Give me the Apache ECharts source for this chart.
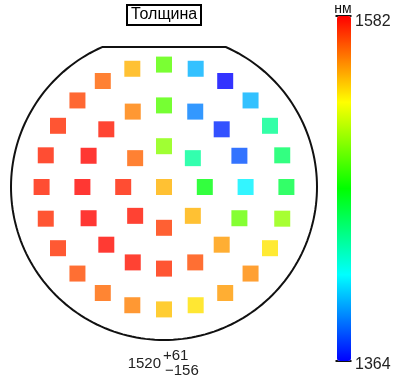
<!DOCTYPE html>
<html>
<head>
<meta charset="utf-8">
<script src="https://cdn.jsdelivr.net/npm/echarts@6/dist/echarts.min.js"></script>
<style>html,body{margin:0;padding:0;background:#fff}#c{width:398px;height:379px}</style>
</head>
<body>
<div id="c"></div>
<script>
// Measurement site positions on the wafer (mm) and thickness (nm)
const ptX = [0,
  20, 14.14, 0, -14.14, -20, -14.14, 0, 14.14,
  40, 36.96, 28.28, 15.31, 0, -15.31, -28.28, -36.96, -40, -36.96, -28.28, -15.31, 0, 15.31, 28.28, 36.96,
  60, 57.96, 51.96, 42.43, 30, 15.53, 0, -15.53, -30, -42.43, -51.96, -57.96, -60, -57.96, -51.96, -42.43, -30, -15.53, 0, 15.53, 30, 42.43, 51.96, 57.96];
const ptY = [0,
  0, 14.14, 20, 14.14, 0, -14.14, -20, -14.14,
  0, 15.31, 28.28, 36.96, 40, 36.96, 28.28, 15.31, 0, -15.31, -28.28, -36.96, -40, -36.96, -28.28, -15.31,
  0, 15.53, 30, 42.43, 51.96, 57.96, 60, 57.96, 51.96, 42.43, 30, 15.53, 0, -15.53, -30, -42.43, -51.96, -57.96, -60, -57.96, -51.96, -42.43, -30, -15.53];
const thickness = [1544,
  1470, 1440, 1502, 1561, 1575, 1578, 1570, 1544,
  1416, 1381, 1372, 1391, 1491, 1555, 1577, 1581, 1581, 1581, 1580, 1578, 1573, 1566, 1549, 1495,
  1459, 1452, 1442, 1402, 1364, 1402, 1492, 1544, 1561, 1568, 1573, 1575, 1575, 1573, 1572, 1566, 1560, 1555, 1541, 1534, 1549, 1553, 1533, 1504];

const titleText = 'Толщина';
const unitText = 'нм';
const scaleMin = 1364;
const scaleMax = 1582;
const waferRadius = 75;   // mm
const flatY = 68.6;       // mm, position of the flat
const jet = ['#0000ff', '#00ffff', '#00ff00', '#ffff00', '#ff0000'];

const data = ptX.map((x, i) => [x, ptY[i], thickness[i]]);
const n = thickness.length;
const mean = Math.round(thickness.reduce((a, b) => a + b, 0) / n);
const vmax = Math.max(...thickness), vmin = Math.min(...thickness);
const plusText = '+' + (vmax - mean);
const minusText = '\u2212' + (mean - vmin);

const font = "'Liberation Sans', Arial, sans-serif";
const chart = echarts.init(document.getElementById('c'));
chart.setOption({
  animation: false,
  title: {
    text: titleText, left: 127, top: 5, padding: [2, 4],
    borderColor: '#000', borderWidth: 2,
    textStyle: { fontSize: 16, fontWeight: 'normal', color: '#000', fontFamily: font }
  },
  grid: { left: 11, top: 34, width: 306, height: 306 },
  xAxis: { type: 'value', min: -waferRadius, max: waferRadius, show: false },
  yAxis: { type: 'value', min: -waferRadius, max: waferRadius, show: false },
  visualMap: {
    type: 'continuous', min: scaleMin, max: scaleMax, seriesIndex: 0,
    left: 337, top: 16, itemWidth: 14, itemHeight: 345, padding: 0,
    calculable: false, text: null, showLabel: false, hoverLink: false,
    inRange: { color: jet }
  },
  graphic: [
    { type: 'line', shape: { x1: 335.5, y1: 16, x2: 351.5, y2: 16 }, style: { stroke: '#111', lineWidth: 2 } },
    { type: 'line', shape: { x1: 335.5, y1: 361, x2: 351.5, y2: 361 }, style: { stroke: '#111', lineWidth: 2 } },
    { type: 'text', x: 343, y: 9, style: { text: unitText, fontSize: 14, fontFamily: font, fill: '#111', align: 'center', verticalAlign: 'middle' } },
    { type: 'text', x: 355, y: 22, style: { text: String(scaleMax), fontSize: 16, fontFamily: font, fill: '#222', align: 'left', verticalAlign: 'middle' } },
    { type: 'text', x: 355, y: 365, style: { text: String(scaleMin), fontSize: 16, fontFamily: font, fill: '#222', align: 'left', verticalAlign: 'middle' } },
    { type: 'text', x: 161, y: 364, style: { text: String(mean), fontSize: 15, fontFamily: font, fill: '#222', align: 'right', verticalAlign: 'middle' } },
    { type: 'text', x: 163, y: 356, style: { text: plusText, fontSize: 15, fontFamily: font, fill: '#222', align: 'left', verticalAlign: 'middle' } },
    { type: 'text', x: 165, y: 371, style: { text: minusText, fontSize: 15, fontFamily: font, fill: '#222', align: 'left', verticalAlign: 'middle' } }
  ],
  series: [
    {
      type: 'scatter', symbol: 'rect', symbolSize: 16, data: data,
      encode: { x: 0, y: 1 }, silent: true
    },
    {
      type: 'custom', data: [[0, 0]], silent: true, z: 1,
      renderItem: function (params, api) {
        const c = api.coord([0, 0]);
        const R = api.coord([waferRadius, 0])[0] - c[0];
        const a0 = Math.asin(flatY / waferRadius);
        const start = Math.PI - a0, end = 2 * Math.PI + a0;
        const pts = [];
        const steps = 180;
        for (let k = 0; k <= steps; k++) {
          const a = start + (end - start) * k / steps;
          pts.push([c[0] + R * Math.cos(a), c[1] - R * Math.sin(a)]);
        }
        return { type: 'polygon', shape: { points: pts }, style: { fill: 'none', stroke: '#111', lineWidth: 2 } };
      }
    }
  ]
});
</script>
</body>
</html>
